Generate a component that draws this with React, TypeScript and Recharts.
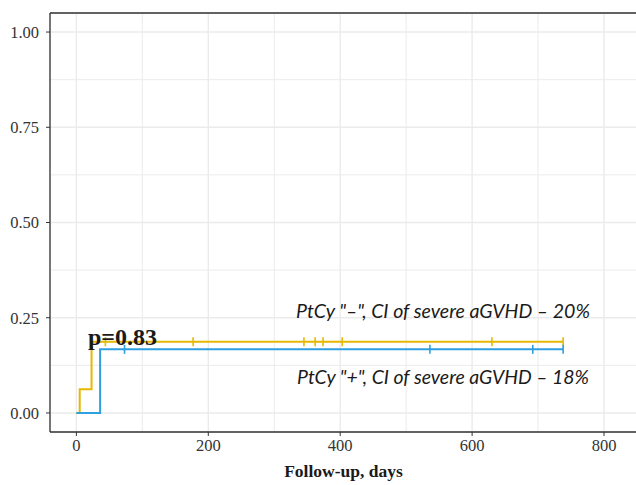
import {
  ComposedChart,
  Line,
  Scatter,
  XAxis,
  YAxis,
  CartesianGrid,
  ReferenceLine,
} from 'recharts'

// step curves (cumulative incidence), days vs probability
const minusSteps = [
  { t: 0, v: 0 },
  { t: 5, v: 0.062 },
  { t: 23, v: 0.187 },
  { t: 738, v: 0.187 },
]
const plusSteps = [
  { t: 0, v: 0 },
  { t: 36, v: 0.167 },
  { t: 738, v: 0.167 },
]

// censored observations
const minusCensorDays = [44, 177, 345, 362, 374, 403, 630, 738]
const plusCensorDays = [73, 536, 692, 738]

const xTicks = [0, 200, 400, 600, 800]
const xMinor = [100, 300, 500, 700]
const yTicks = [0, 0.25, 0.5, 0.75, 1]
const yMinor = [0.125, 0.375, 0.625, 0.875]

const ORANGE = '#E7B800'
const BLUE = '#2E9FDF'
const SERIF = '"Liberation Serif", "DejaVu Serif", serif'

const minusCensor = minusCensorDays.map(t => ({ t, v: minusSteps[minusSteps.length - 1].v }))
const plusCensor = plusCensorDays.map(t => ({ t, v: plusSteps[plusSteps.length - 1].v }))

function censorShape(color: string) {
  return (props: any) => {
    const { cx, cy } = props
    return <line x1={cx} x2={cx} y1={cy - 4.5} y2={cy + 4.5} stroke={color} strokeWidth={1.6} />
  }
}

export default function App() {
  const tickStyle = { fontSize: 16.5, fill: '#333', fontFamily: SERIF }

  return (
    <div style={{ position: 'absolute', left: 0, top: 0, width: 636, height: 485, overflow: 'hidden', background: '#fff' }}>
      <ComposedChart width={640} height={485} margin={{ top: 13, right: 3, left: 0, bottom: 0 }}>
        <CartesianGrid stroke="#ebebeb" strokeWidth={1.4} />
        {xMinor.map(x => (
          <ReferenceLine key={'x' + x} x={x} stroke="#ebebeb" strokeWidth={1} />
        ))}
        {yMinor.map(y => (
          <ReferenceLine key={'y' + y} y={y} stroke="#ebebeb" strokeWidth={1} />
        ))}
        <ReferenceLine y={1.05} stroke="#333" strokeWidth={1.3} />
        <XAxis
          dataKey="t"
          type="number"
          domain={[-40, 850]}
          ticks={xTicks}
          allowDataOverflow
          height={53}
          tick={tickStyle}
          tickSize={4}
          tickMargin={3}
          tickLine={{ stroke: '#333' }}
          axisLine={{ stroke: '#333', strokeWidth: 1.3 }}
          label={{
            value: 'Follow-up, days',
            position: 'insideBottom',
            offset: 8,
            style: { fontSize: 17.5, fontWeight: 'bold', fill: '#1a1a1a', fontFamily: SERIF },
          }}
        />
        <YAxis
          type="number"
          domain={[-0.05, 1.05]}
          ticks={yTicks}
          allowDataOverflow
          width={50}
          tick={tickStyle}
          tickSize={4}
          tickMargin={7}
          tickLine={{ stroke: '#333' }}
          axisLine={{ stroke: '#333', strokeWidth: 1.3 }}
          tickFormatter={(v: number) => v.toFixed(2)}
        />
        <Line
          data={minusSteps}
          dataKey="v"
          type="stepAfter"
          stroke={ORANGE}
          strokeWidth={2}
          dot={false}
          activeDot={false}
          isAnimationActive={false}
        />
        <Scatter data={minusCensor} dataKey="v" shape={censorShape(ORANGE)} isAnimationActive={false} />
        <Line
          data={plusSteps}
          dataKey="v"
          type="stepAfter"
          stroke={BLUE}
          strokeWidth={2}
          dot={false}
          activeDot={false}
          isAnimationActive={false}
        />
        <Scatter data={plusCensor} dataKey="v" shape={censorShape(BLUE)} isAnimationActive={false} />
      </ComposedChart>
      <svg width={636} height={485} style={{ position: 'absolute', left: 0, top: 0, pointerEvents: 'none' }}>
        <text
          x={296}
          y={318}
          fontSize={19}
          fontStyle="italic"
          fontFamily="Lato, 'Noto Sans', sans-serif"
          fill="#1a1a1a"
          textLength={294}
          lengthAdjust="spacingAndGlyphs"
        >
          PtCy "–", CI of severe aGVHD – 20%
        </text>
        <text
          x={297}
          y={384}
          fontSize={19}
          fontStyle="italic"
          fontFamily="Lato, 'Noto Sans', sans-serif"
          fill="#1a1a1a"
          textLength={292}
          lengthAdjust="spacingAndGlyphs"
        >
          PtCy "+", CI of severe aGVHD – 18%
        </text>
        <text x={88} y={345} fontSize={24} fontWeight="bold" fontFamily={SERIF} fill="#1a1a1a">
          p=0.83
        </text>
      </svg>
    </div>
  )
}
